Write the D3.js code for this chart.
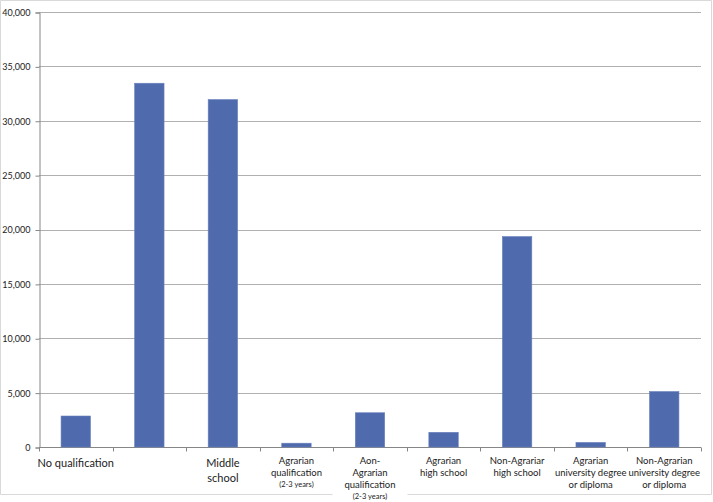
<!DOCTYPE html>
<html>
<head>
<meta charset="utf-8">
<script src="https://cdn.jsdelivr.net/npm/d3@7"></script>
<style>
  body { margin: 0; background: #fff; }
  svg text { font-family: Lato, "Open Sans", sans-serif; fill: #222; }
</style>
</head>
<body>
<div id="chart"></div>
<script>
// categories (label lines) and values
const categories = [
  ['No qualification'],
  [''],
  ['Middle', 'school'],
  ['Agrarian', 'qualification', '(2-3 years)'],
  ['Aon-', 'Agrarian', 'qualification', '(2-3 years)'],
  ['Agrarian', 'high school'],
  ['Non-Agrariar', 'high school'],
  ['Agrarian', 'university degree', 'or diploma'],
  ['Non-Agrarian', 'university degree', 'or diploma']
];
const values = [2850, 33450, 31950, 350, 3150, 1350, 19350, 420, 5100];
const yTicks = [0, 5000, 10000, 15000, 20000, 25000, 30000, 35000, 40000];

const width = 713, height = 502;
const margin = { top: 12, right: 12, bottom: 55, left: 39 };
const bigLabels = [0, 2];

const svg = d3.select('#chart').append('svg')
  .attr('width', width)
  .attr('height', height);

const x = d3.scaleBand()
  .domain(d3.range(categories.length))
  .range([margin.left, width - margin.right])
  .paddingInner(0.6)
  .paddingOuter(0.3);

const y = d3.scaleLinear()
  .domain([0, 40000])
  .range([height - margin.bottom, margin.top]);

// gridlines
svg.append('g')
  .selectAll('line')
  .data(yTicks.slice(1))
  .enter().append('line')
  .attr('x1', margin.left)
  .attr('x2', width - margin.right)
  .attr('y1', d => Math.round(y(d)) + 0.5)
  .attr('y2', d => Math.round(y(d)) + 0.5)
  .attr('stroke', '#b0b0b0');

// y axis
const yAxis = d3.axisLeft(y)
  .tickValues(yTicks)
  .tickSize(4)
  .tickPadding(5)
  .tickFormat(d3.format(','));
const yg = svg.append('g')
  .attr('transform', `translate(${margin.left + 0.5},0.5)`)
  .call(yAxis);
yg.select('.domain').attr('stroke', '#868686');
yg.selectAll('.tick line').attr('stroke', '#868686');
yg.selectAll('.tick text').style('font-size', '9px').style('font-family', 'Lato, sans-serif');

// x baseline + category boundary ticks
const base = Math.round(y(0)) + 0.5;
svg.append('line')
  .attr('x1', margin.left)
  .attr('x2', width - margin.right)
  .attr('y1', base).attr('y2', base)
  .attr('stroke', '#868686');
svg.append('g')
  .selectAll('line')
  .data(d3.range(categories.length + 1))
  .enter().append('line')
  .attr('x1', i => Math.round(margin.left + i * x.step()) + 0.5)
  .attr('x2', i => Math.round(margin.left + i * x.step()) + 0.5)
  .attr('y1', base)
  .attr('y2', base + 4)
  .attr('stroke', '#868686');

// bars
svg.append('g')
  .selectAll('rect')
  .data(values)
  .enter().append('rect')
  .attr('x', (d, i) => x(i))
  .attr('y', d => y(d))
  .attr('width', x.bandwidth())
  .attr('height', d => y(0) - y(d))
  .attr('fill', '#4f6aad')
  .attr('stroke', '#6a82bd')
  .attr('stroke-width', 0.6);

// category labels
const labels = svg.append('g')
  .selectAll('text')
  .data(categories)
  .enter().append('text')
  .attr('text-anchor', 'middle')
  .attr('x', (d, i) => x(i) + x.bandwidth() / 2)
  .attr('y', (d, i) => bigLabels.includes(i) ? 467 : 464);

labels.each(function(lines, i) {
  const t = d3.select(this);
  const big = bigLabels.includes(i);
  lines.forEach((line, j) => {
    const small = line.startsWith('(');
    t.append('tspan')
      .attr('x', x(i) + x.bandwidth() / 2)
      .attr('dy', j === 0 ? 0 : (big ? 15 : (small ? 11 : 12)))
      .style('font-size', big ? '11px' : (small ? '7.5px' : '9.5px'))
      .text(line);
  });
});

// outer chart border, broken where the long label runs through it
const bb = labels.filter((d, i) => i === 4).node().getBBox();
const bottom = 494.5;
svg.append('path')
  .attr('fill', 'none')
  .attr('stroke', '#d9d9d9')
  .attr('d', `M${bb.x - 12},${bottom} H0.5 V0.5 H${width - 1.5} V${bottom} H${bb.x + bb.width + 12}`);
</script>
</body>
</html>
